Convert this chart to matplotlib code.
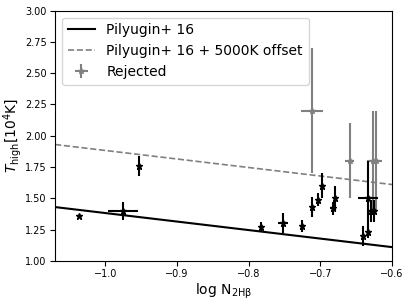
import numpy as np
import matplotlib
matplotlib.use('Agg')
import matplotlib.pyplot as plt

# accepted measurements
n2_ok = [-1.037, -0.975, -0.953, -0.783, -0.752, -0.725, -0.711, -0.703, -0.698, -0.683, -0.680,
         -0.641, -0.633, -0.633, -0.630, -0.625]
t_ok = [1.36, 1.40, 1.76, 1.27, 1.30, 1.28, 1.43, 1.49, 1.60, 1.42, 1.50,
        1.20, 1.50, 1.23, 1.40, 1.40]
n2_ok_err = [0.0, 0.021, 0.002, 0.003, 0.007, 0.003, 0.003, 0.003, 0.003, 0.003, 0.003,
             0.003, 0.014, 0.002, 0.003, 0.003]
t_ok_err = [0.0, 0.07, 0.08, 0.04, 0.08, 0.05, 0.08, 0.05, 0.10, 0.05, 0.10,
            0.08, 0.30, 0.05, 0.09, 0.09]

# rejected measurements
n2_rej = [-0.712, -0.659, -0.626, -0.623]
t_rej = [2.20, 1.80, 1.80, 1.80]
n2_rej_err = [0.015, 0.006, 0.009, 0.009]
t_rej_err = [0.50, 0.30, 0.40, 0.40]

# Pilyugin+16 relation endpoints
line_x = [-1.07, -0.60]
line_y = [1.43, 1.11]
offset = 0.5

fig = plt.figure(figsize=(4.11, 3.03), dpi=100)
ax = fig.add_axes([0.134, 0.139, 0.82, 0.826])

ax.plot(line_x, line_y, color='black', lw=1.5, label='Pilyugin+ 16')
ax.plot(line_x, np.array(line_y) + offset, color='grey', lw=1.2, ls='--',
        label='Pilyugin+ 16 + 5000K offset')
ax.errorbar(n2_rej, t_rej, xerr=n2_rej_err, yerr=t_rej_err, fmt='*', color='grey',
            ms=4, elinewidth=1.5, label='Rejected')
ax.errorbar(n2_ok, t_ok, xerr=n2_ok_err, yerr=t_ok_err, fmt='*', color='black',
            ms=5, elinewidth=1.5)

ax.set_xlim(-1.07, -0.6)
ax.set_ylim(1.0, 3.0)
ax.set_yticks(np.arange(1.0, 3.01, 0.25))
ax.set_yticklabels([f'{v:.2f}' for v in np.arange(1.0, 3.01, 0.25)])
ax.tick_params(labelsize=7, pad=2.5)
ax.set_xlabel(r'$\log\,\mathrm{N_{2H\beta}}$', fontsize=10, labelpad=2)
ax.set_ylabel(r'$T_\mathrm{high}[10^4\mathrm{K}]$', fontsize=10, labelpad=1)
ax.legend(loc='upper left', fontsize=10)

fig.savefig('out.png', dpi=100)
